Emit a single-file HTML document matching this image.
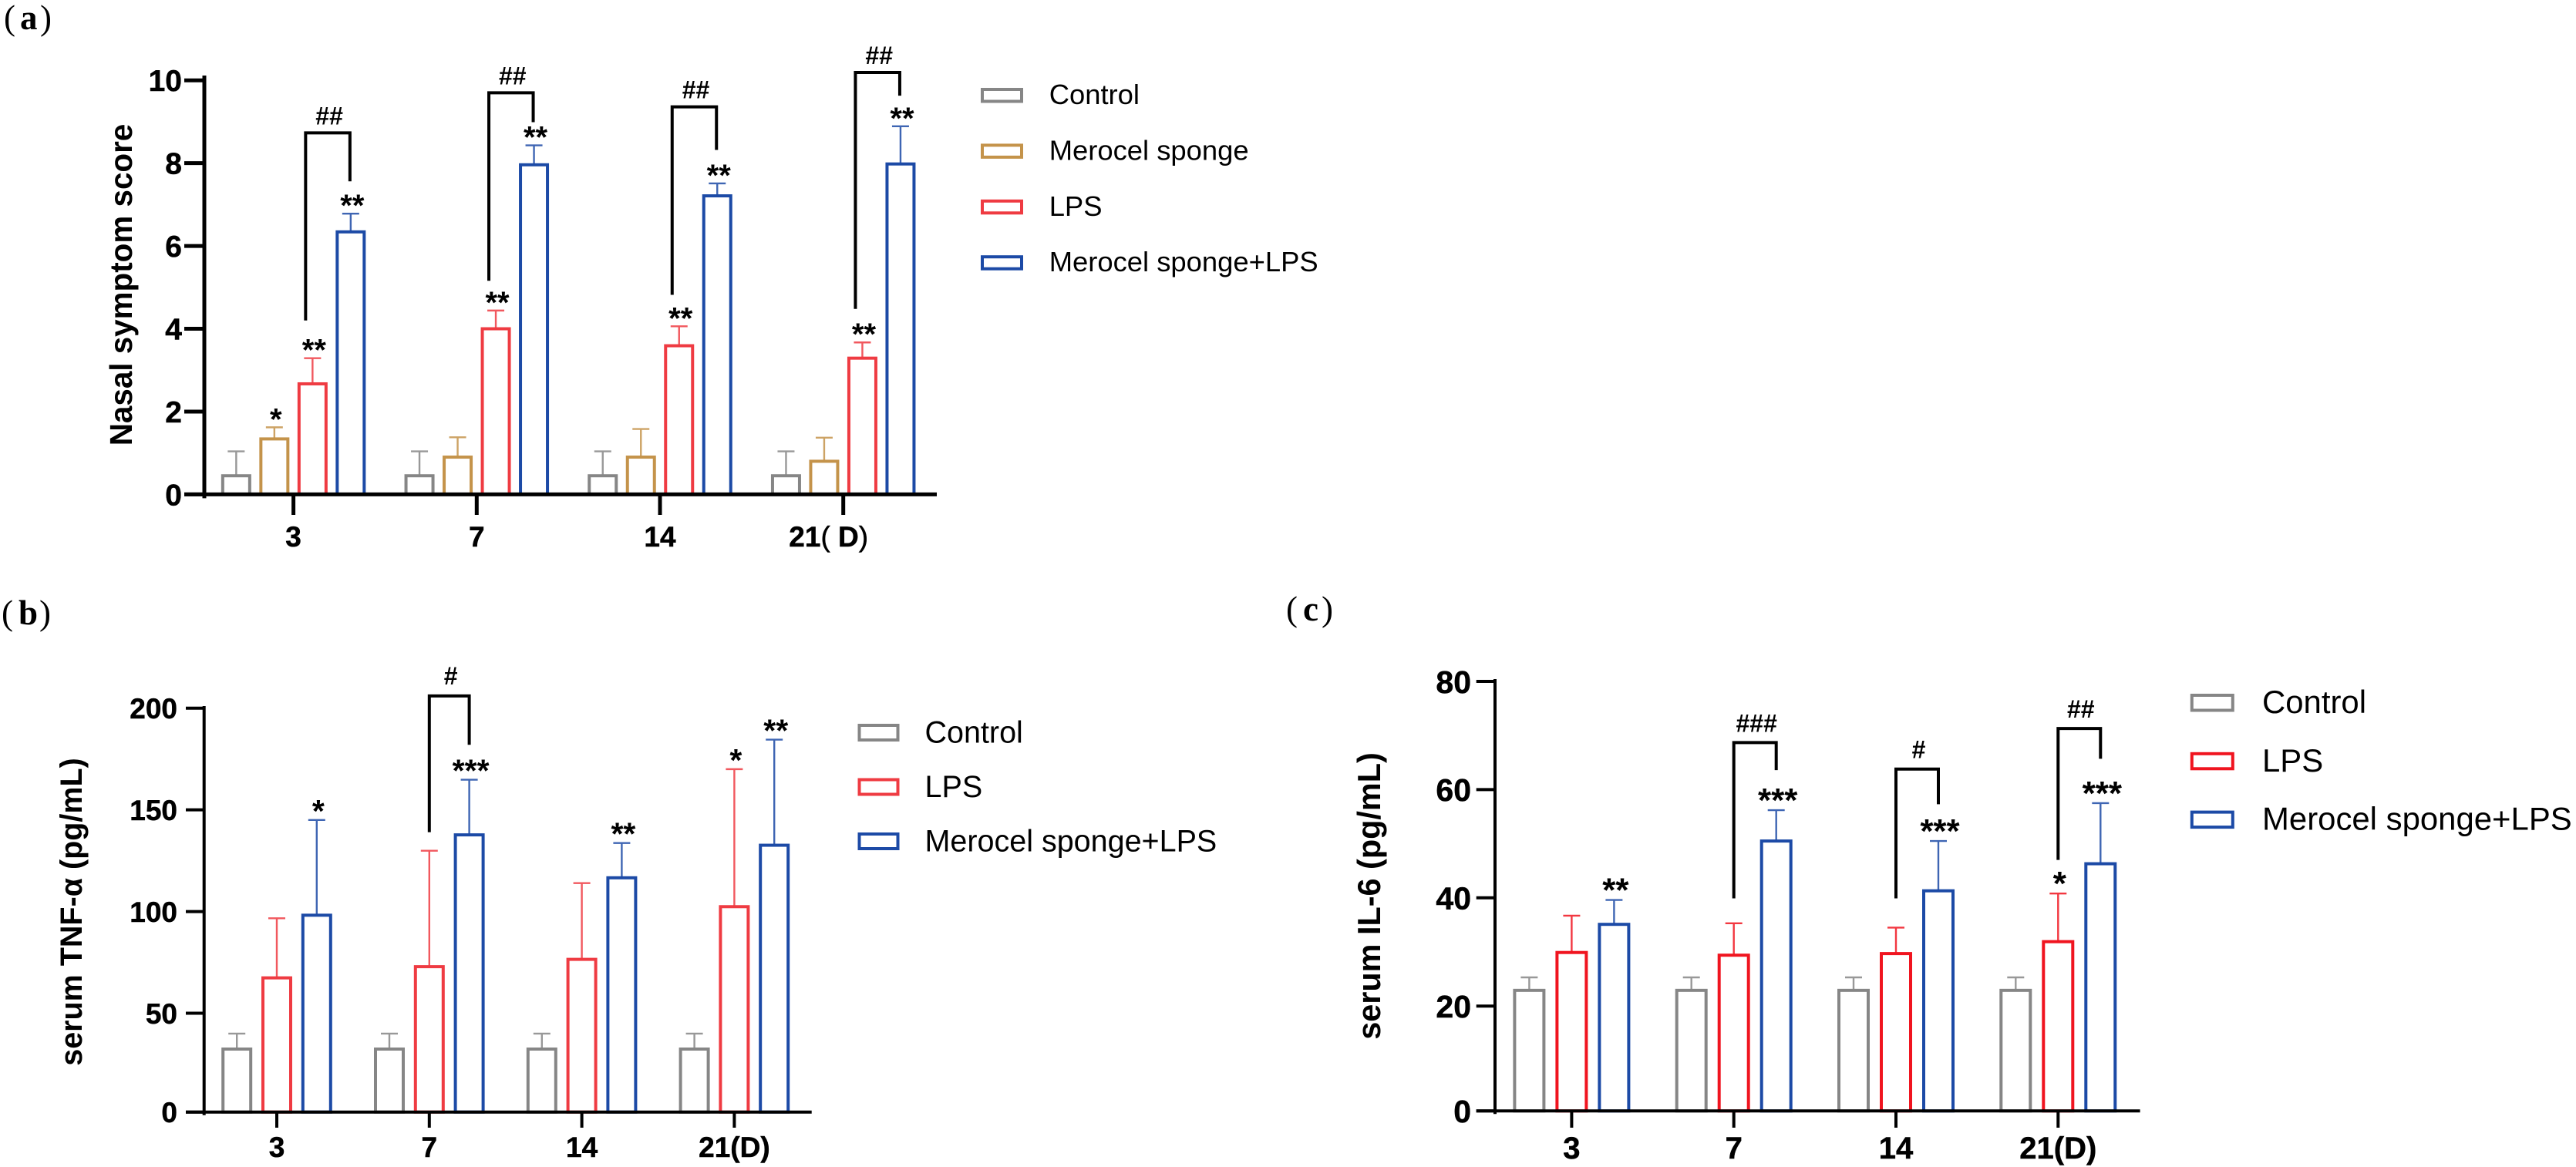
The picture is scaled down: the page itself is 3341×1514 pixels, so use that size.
<!DOCTYPE html>
<html lang="en">
<head>
<meta charset="utf-8">
<title>Nasal symptom score, serum TNF-α and IL-6</title>
<style>
html,body{margin:0;padding:0;background:#fff;width:3341px;height:1514px;overflow:hidden}
svg{display:block;font-family:"Liberation Sans",sans-serif}
</style>
</head>
<body>
<svg id="figure" xmlns="http://www.w3.org/2000/svg" width="3341" height="1514" viewBox="0 0 3341 1514">
<rect width="3341" height="1514" fill="#fff"/>
<text font-family="Liberation Serif" font-size="45" y="38"><tspan x="5">(</tspan><tspan x="26" font-weight="700">a</tspan><tspan x="52">)</tspan></text>
<text font-family="Liberation Serif" font-size="45" y="810"><tspan x="2">(</tspan><tspan x="24" font-weight="700">b</tspan><tspan x="51">)</tspan></text>
<text font-family="Liberation Serif" font-size="45" y="805"><tspan x="1668">(</tspan><tspan x="1690" font-weight="700">c</tspan><tspan x="1714">)</tspan></text>
<text font-size="40.4" font-weight="700" text-anchor="middle" transform="translate(171 369.5) rotate(-90)">Nasal symptom score</text>
<text font-size="39.5" font-weight="700" text-anchor="middle" transform="translate(106 1183) rotate(-90)">serum TNF-α (pg/mL)</text>
<text font-size="41.4" font-weight="700" text-anchor="middle" transform="translate(1790 1162.5) rotate(-90)">serum IL-6 (pg/mL)</text>
</svg>
<script>
// Panel (a) data
const aCategories = ['3', '7', '14', '21( D)'];
const aTicks = [0, 2, 4, 6, 8, 10];
const aControl = [0.45, 0.45, 0.45, 0.45];
const aControlErr = [1.04, 1.04, 1.04, 1.04];
const aSponge = [1.34, 0.9, 0.9, 0.8];
const aSpongeErr = [1.62, 1.38, 1.58, 1.37];
const aLps = [2.67, 4.0, 3.59, 3.29];
const aLpsErr = [3.29, 4.44, 4.06, 3.67];
const aCombo = [6.34, 7.96, 7.21, 7.98];
const aComboErr = [6.78, 8.43, 7.51, 8.89];
const aSpongeStars = ['*', '', '', ''];
const aLpsStars = ['**', '**', '**', '**'];
const aComboStars = ['**', '**', '**', '**'];
const aBracketLow = [4.2, 5.16, 4.82, 4.48];
const aBracketTop = [8.73, 9.7, 9.36, 10.19];
const aBracketHigh = [7.56, 8.99, 8.32, 9.63];
const aBracketMarks = ['##', '##', '##', '##'];

// Panel (b) data
const bCategories = ['3', '7', '14', '21(D)'];
const bTicks = [0, 50, 100, 150, 200];
const bControl = [32.4, 32.4, 32.4, 32.4];
const bControlErr = [40, 40, 40, 40];
const bLps = [67.4, 72.9, 76.5, 102.4];
const bLpsErr = [96.7, 129.9, 114, 170];
const bCombo = [98.2, 137.7, 116.6, 132.6];
const bComboErr = [145, 164.8, 133.7, 184.5];
const bLpsStars = ['', '', '', '*'];
const bComboStars = ['*', '***', '**', '**'];
const bBracketLow = [null, 139, null, null];
const bBracketTop = [null, 206, null, null];
const bBracketHigh = [null, 182, null, null];
const bBracketMarks = ['', '#', '', ''];

// Panel (c) data
const cCategories = ['3', '7', '14', '21(D)'];
const cTicks = [0, 20, 40, 60, 80];
const cControl = [22.9, 22.9, 22.9, 22.9];
const cControlErr = [25.3, 25.3, 25.3, 25.3];
const cLps = [29.9, 29.4, 29.7, 31.9];
const cLpsErr = [36.7, 35.3, 34.5, 40.8];
const cCombo = [35.1, 50.5, 41.3, 46.3];
const cComboErr = [39.6, 56.2, 50.5, 57.5];
const cLpsStars = ['', '', '', '*'];
const cComboStars = ['**', '***', '***', '***'];
const cBracketLow = [null, 39.9, 39.9, 47];
const cBracketTop = [null, 68.7, 63.8, 71.3];
const cBracketHigh = [null, 63.6, 57.3, 65.7];
const cBracketMarks = ['', '###', '#', '##'];

const GRAY = '#868686', TAN = '#c4934a', RED = '#ef3b42', RED2 = '#f0141f', BLUE = '#1c4aa6';
const NS = 'http://www.w3.org/2000/svg';
const figure = document.getElementById('figure');

function make(parent, tag, attrs, text) {
  const el = document.createElementNS(NS, tag);
  for (const k in attrs) el.setAttribute(k, attrs[k]);
  if (text !== undefined) el.textContent = text;
  parent.appendChild(el);
  return el;
}

function drawPanel(cfg) {
  const panel = make(figure, 'g', {});
  
  
  const yScale = v => cfg.y0 - v * cfg.k;
  const groupX = i => cfg.tick0 + i * cfg.tickStep;
  const barX = (i, s) => groupX(i) + (s - (cfg.series.length - 1) / 2) * cfg.barStep;

  cfg.series.forEach((ser, s) => {
    ser.values.forEach((v, i) => {
      const cx = barX(i, s);
      const top = yScale(v);
      const errTop = yScale(ser.err[i]);
      const whisker = make(panel, 'path', {
        d: 'M' + cx + ' ' + top + 'V' + errTop + 'M' + (cx - cfg.cap) + ' ' + errTop + 'H' + (cx + cfg.cap),
        fill: 'none', stroke: ser.color, 'stroke-width': 2.4, 'stroke-opacity': 0.85
      });
      
      
      const bar = make(panel, 'rect', {
        x: cx - cfg.barW / 2 + 2, y: top, width: cfg.barW - 4, height: cfg.axisY - top,
        fill: '#fff', stroke: ser.color, 'stroke-width': 4
      });
      
      
      const star = ser.stars ? ser.stars[i] : '';
      if (star) {
        const label = make(panel, 'text', {
          x: cx + 2, y: errTop - cfg.starGap, 'font-size': cfg.starSize, 'font-weight': 700, 'text-anchor': 'middle', fill: '#000'
        }, star);
        
        
      }
    });
  });

  const lastBar = cfg.series.length - 1;
  cfg.bracket.low.forEach((low, i) => {
    if (low === null) return;
    const lx = barX(i, lastBar - 1) + cfg.bracketLeftShift;
    const rx = barX(i, lastBar) + cfg.bracketRightShift;
    const ty = yScale(cfg.bracket.top[i]);
    const line = make(panel, 'path', {
      d: 'M' + lx + ' ' + yScale(low) + 'V' + ty + 'H' + rx + 'V' + yScale(cfg.bracket.high[i]),
      fill: 'none', stroke: '#000', 'stroke-width': 4
    });
    
    
    const mark = make(panel, 'text', {
      x: (lx + rx) / 2 + 2, y: ty - cfg.markGap, 'font-size': 32, 'font-weight': 700, 'text-anchor': 'middle', fill: '#000'
    }, cfg.bracket.marks[i]);
    
    
  });

  const xAxis = make(panel, 'line', {
    x1: cfg.tickLeft, x2: cfg.axisRight, y1: cfg.axisY, y2: cfg.axisY, stroke: '#000', 'stroke-width': cfg.axisW
  });
  
  
  const yAxis = make(panel, 'line', {
    x1: cfg.axisX, x2: cfg.axisX, y1: cfg.axisTop, y2: cfg.axisY + cfg.axisW, stroke: '#000', 'stroke-width': cfg.axisW
  });
  
  

  cfg.ticks.forEach(t => {
    const y = t === 0 ? cfg.axisY : yScale(t);
    const tick = make(panel, 'line', { x1: cfg.tickLeft, x2: cfg.axisX, y1: y, y2: y, stroke: '#000', 'stroke-width': cfg.axisW });
    
    
    const label = make(panel, 'text', {
      x: cfg.labelRight, y: y + cfg.tickSize * 0.36, 'font-size': cfg.tickSize, 'font-weight': 700, 'text-anchor': 'end',
      stroke: '#000', 'stroke-width': 0.5
    }, String(t));
    
    
  });

  cfg.categories.forEach((c, i) => {
    const x = groupX(i);
    const tick = make(panel, 'line', { x1: x, x2: x, y1: cfg.axisY, y2: cfg.tickBottom, stroke: '#000', 'stroke-width': cfg.axisW });
    
    
    const shift = (cfg.labelShift && i === cfg.categories.length - 1) ? cfg.labelShift : 0;
    const label = make(panel, 'text', {
      x: x + shift, y: cfg.xLabelY, 'font-size': cfg.xSize, 'font-weight': 700, 'text-anchor': 'middle',
      stroke: '#000', 'stroke-width': 0.5
    });
    
    
    if (cfg.thinParens) {
      label.innerHTML = c.replace(/[()]/g, '<tspan font-weight="400">$&</tspan>');
    } else {
      label.textContent = c;
    }
  });

  const legend = make(panel, 'g', {});
  
  
  cfg.series.forEach((ser, s) => {
    const top = cfg.legend.y + s * cfg.legend.step;
    const swatch = make(legend, 'rect', {
      x: cfg.legend.x + 2, y: top + 2, width: cfg.legend.w - 4, height: cfg.legend.h - 4,
      fill: '#fff', stroke: ser.color, 'stroke-width': 4
    });
    
    
    const text = make(legend, 'text', {
      x: cfg.legend.textX, y: top + cfg.legend.h + 1.5, 'font-size': cfg.legend.size, fill: '#000'
    }, ser.label);
    
    
  });
}

drawPanel({
  name: 'panel-a-nasal-symptom-chart',
  categories: aCategories, ticks: aTicks,
  series: [
    { key: 'control', label: 'Control', color: GRAY, values: aControl, err: aControlErr },
    { key: 'merocel-sponge', label: 'Merocel sponge', color: TAN, values: aSponge, err: aSpongeErr, stars: aSpongeStars },
    { key: 'lps', label: 'LPS', color: RED, values: aLps, err: aLpsErr, stars: aLpsStars },
    { key: 'merocel-sponge-lps', label: 'Merocel sponge+LPS', color: BLUE, values: aCombo, err: aComboErr, stars: aComboStars }
  ],
  bracket: { low: aBracketLow, top: aBracketTop, high: aBracketHigh, marks: aBracketMarks },
  y0: 641.4, k: 53.72, axisY: 641.4, axisX: 265, axisTop: 98, axisRight: 1215, axisW: 5,
  tick0: 380.6, tickStep: 237.7, barStep: 49.5, barW: 39, cap: 11,
  tickLeft: 239, tickBottom: 668, labelRight: 236, tickSize: 39,
  xLabelY: 709, xSize: 37, thinParens: true, labelShift: -19,
  starSize: 40, starGap: -3, markGap: 11, bracketLeftShift: -9, bracketRightShift: -1,
  legend: { x: 1272, y: 114, step: 72.4, w: 55, h: 19.5, textX: 1360.7, size: 36.4 }
});

drawPanel({
  name: 'panel-b-tnf-alpha-chart',
  categories: bCategories, ticks: bTicks,
  series: [
    { key: 'control', label: 'Control', color: GRAY, values: bControl, err: bControlErr },
    { key: 'lps', label: 'LPS', color: RED, values: bLps, err: bLpsErr, stars: bLpsStars },
    { key: 'merocel-sponge-lps', label: 'Merocel sponge+LPS', color: BLUE, values: bCombo, err: bComboErr, stars: bComboStars }
  ],
  bracket: { low: bBracketLow, top: bBracketTop, high: bBracketHigh, marks: bBracketMarks },
  y0: 1446.5, k: 2.639, axisY: 1442.7, axisX: 264.7, axisTop: 916, axisRight: 1052.7, axisW: 4,
  tick0: 359, tickStep: 197.8, barStep: 51.8, barW: 40, cap: 11,
  tickLeft: 241, tickBottom: 1463, labelRight: 230, tickSize: 37,
  xLabelY: 1501, xSize: 37,
  starSize: 41, starGap: -2, markGap: 15, bracketLeftShift: 0, bracketRightShift: 0,
  legend: { x: 1112.5, y: 939, step: 70.5, w: 54, h: 23, textX: 1199.5, size: 39.5 }
});

drawPanel({
  name: 'panel-c-il-6-chart',
  categories: cCategories, ticks: cTicks,
  series: [
    { key: 'control', label: 'Control', color: GRAY, values: cControl, err: cControlErr },
    { key: 'lps', label: 'LPS', color: RED2, values: cLps, err: cLpsErr, stars: cLpsStars },
    { key: 'merocel-sponge-lps', label: 'Merocel sponge+LPS', color: BLUE, values: cCombo, err: cComboErr, stars: cComboStars }
  ],
  bracket: { low: cBracketLow, top: cBracketTop, high: cBracketHigh, marks: cBracketMarks },
  y0: 1445.6, k: 7.02, axisY: 1441.3, axisX: 1939, axisTop: 881, axisRight: 2775.6, axisW: 4,
  tick0: 2038.4, tickStep: 210.3, barStep: 55, barW: 42, cap: 11,
  tickLeft: 1914.7, tickBottom: 1463, labelRight: 1908, tickSize: 41,
  xLabelY: 1503, xSize: 40,
  starSize: 44, starGap: -2, markGap: 14, bracketLeftShift: 0, bracketRightShift: 0,
  legend: { x: 2840.8, y: 900, step: 75.8, w: 57, h: 23.5, textX: 2934, size: 41.9 }
});
</script>
</body>
</html>
